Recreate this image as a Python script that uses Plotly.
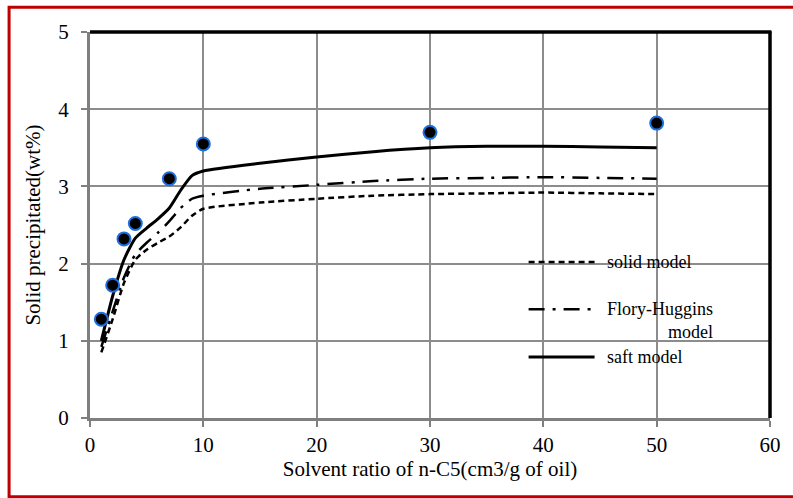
import plotly.graph_objects as go

# Experimental data
exp_x = [1, 2, 3, 4, 7, 10, 30, 50]
exp_y = [1.28, 1.72, 2.32, 2.52, 3.10, 3.55, 3.70, 3.82]

# Model curves
model_x = [1, 2, 3, 4, 5, 6, 7, 8, 9, 10, 15, 20, 25, 30, 35, 40, 45, 50]
saft_y = [1.00, 1.58, 2.05, 2.33, 2.46, 2.58, 2.72, 2.95, 3.14, 3.20, 3.30, 3.38, 3.45, 3.50, 3.52, 3.52, 3.51, 3.50]
flory_y = [0.92, 1.38, 1.82, 2.12, 2.27, 2.40, 2.55, 2.72, 2.84, 2.88, 2.97, 3.02, 3.07, 3.10, 3.11, 3.12, 3.11, 3.10]
solid_y = [0.85, 1.28, 1.75, 2.05, 2.18, 2.27, 2.35, 2.47, 2.62, 2.71, 2.79, 2.84, 2.88, 2.90, 2.91, 2.92, 2.91, 2.90]

x_ticks = [0, 10, 20, 30, 40, 50, 60]
y_ticks = [0, 1, 2, 3, 4, 5]

FONT = "Liberation Serif, Times New Roman, serif"

fig = go.Figure()
fig.add_trace(go.Scatter(x=model_x, y=solid_y, mode="lines", name="solid model",
                         line=dict(color="black", width=2.5, dash="6px,4px", shape="spline", smoothing=0.6)))
fig.add_trace(go.Scatter(x=model_x, y=flory_y, mode="lines", name="Flory-Huggins model",
                         line=dict(color="black", width=2.5, dash="16px,8px,3px,8px", shape="spline", smoothing=0.6)))
fig.add_trace(go.Scatter(x=model_x, y=saft_y, mode="lines", name="saft model",
                         line=dict(color="black", width=3, shape="spline", smoothing=0.6)))
fig.add_trace(go.Scatter(x=exp_x, y=exp_y, mode="markers", name="experimental",
                         marker=dict(color="black", size=13, line=dict(color="#1e6fe0", width=2))))

axis_common = dict(
    showgrid=True, gridcolor="#8c8c8c", gridwidth=1.5,
    showline=True, linecolor="#7f7f7f", linewidth=3,
    ticks="outside", tickcolor="#7f7f7f", ticklen=6, tickwidth=1.5,
    tickfont=dict(family=FONT, size=21, color="black"),
    zeroline=False,
)
fig.update_xaxes(range=[0, 60], tickvals=x_ticks,
                 title=dict(text="Solvent ratio of n-C5(cm3/g of oil)", font=dict(family=FONT, size=21, color="black"), standoff=0),
                 **axis_common)
fig.update_yaxes(range=[0, 5], tickvals=y_ticks, ticklabelstandoff=8,
                 title=dict(text="Solid precipitated(wt%)", font=dict(family=FONT, size=21, color="black"), standoff=12),
                 **axis_common)

shapes = [
    # top and right black frame
    dict(type="line", xref="paper", yref="paper", x0=0, x1=1.002, y0=1, y1=1, line=dict(color="black", width=3.5), layer="above"),
    dict(type="line", xref="paper", yref="paper", x0=1, x1=1, y0=0, y1=1.002, line=dict(color="black", width=3.5), layer="above"),
    # outer red border
    dict(type="rect", xref="paper", yref="paper", x0=-0.119, x1=1.04, y0=-0.204, y1=1.064,
         line=dict(color="#c00000", width=3), layer="below"),
]

# manual legend
leg_x0, leg_x1, txt_x = 0.645, 0.742, 0.757
leg_items = [
    (0.404, dict(color="black", width=2.5, dash="6px,4px"), "solid model"),
    (0.282, dict(color="black", width=2.5, dash="16px,8px,3px,8px"), "Flory-Huggins<br>model"),
    (0.158, dict(color="black", width=3), "saft model"),
]
annotations = []
for y, ln, txt in leg_items:
    shapes.append(dict(type="line", xref="paper", yref="paper", x0=leg_x0, x1=leg_x1, y0=y, y1=y, line=ln))
    annotations.append(dict(xref="paper", yref="paper", x=txt_x, y=y, text=txt, showarrow=False,
                            xanchor="left", yanchor="top" if "<br>" in txt else "middle",
                            yshift=12 if "<br>" in txt else 0, align="right",
                            font=dict(family=FONT, size=18, color="black")))

fig.update_layout(
    width=793, height=498,
    margin=dict(l=90, r=21, t=32, b=80),
    paper_bgcolor="white", plot_bgcolor="white",
    showlegend=False,
    shapes=shapes, annotations=annotations,
)

fig.write_html("out.html")
